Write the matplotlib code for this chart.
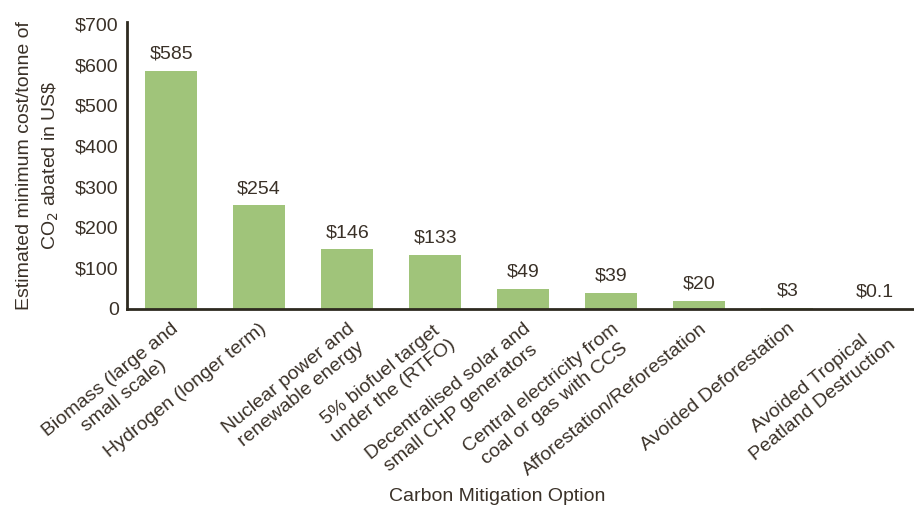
import matplotlib
matplotlib.use('Agg')
import matplotlib.pyplot as plt

plt.rcParams['font.family'] = ['Liberation Sans', 'DejaVu Sans']

categories = [
    'Biomass (large and\nsmall scale)',
    'Hydrogen (longer term)',
    'Nuclear power and\nrenewable energy',
    '5% biofuel target\nunder the (RTFO)',
    'Decentralised solar and\nsmall CHP generators',
    'Central electricity from\ncoal or gas with CCS',
    'Afforestation/Reforestation',
    'Avoided Deforestation',
    'Avoided Tropical\nPeatland Destruction',
]
costs = [585, 254, 146, 133, 49, 39, 20, 3, 0.1]
value_labels = ['$585', '$254', '$146', '$133', '$49', '$39', '$20', '$3', '$0.1']
yticks = [0, 100, 200, 300, 400, 500, 600, 700]
ytick_labels = ['0', '$100', '$200', '$300', '$400', '$500', '$600', '$700']

text_color = '#3a3128'
bar_color = '#a0c47a'

fig = plt.figure(figsize=(9.14, 5.08), dpi=100)
ax = fig.add_axes([0.139, 0.392, 0.861, 0.565])

x = list(range(len(costs)))
ax.bar(x, costs, width=0.59, color=bar_color)

for xi, v, lab in zip(x, costs, value_labels):
    ax.annotate(lab, (xi, v), xytext=(0, 6), textcoords='offset points',
                ha='center', va='bottom', fontsize=14, color=text_color)

ax.set_xlim(-0.5, 8.44)
ax.set_ylim(0, 705)
ax.set_yticks(yticks)
ax.set_yticklabels(ytick_labels, fontsize=14, color=text_color)
ax.set_xticks(x)
ax.set_xticklabels(categories, rotation=39, ha='right', va='top',
                   rotation_mode='anchor', multialignment='center',
                   linespacing=1.3, fontsize=14, color=text_color)
ax.tick_params(axis='x', length=0, pad=8)
ax.tick_params(axis='y', length=0, pad=6)

for s in ['top', 'right']:
    ax.spines[s].set_visible(False)
for s in ['left', 'bottom']:
    ax.spines[s].set_linewidth(2)
    ax.spines[s].set_color('#2e2a20')

ax.set_ylabel('Estimated minimum cost/tonne of\nCO$_2$ abated in US\\$',
              fontsize=14, color=text_color, labelpad=10, linespacing=1.5)
fig.text(0.544, 0.005, 'Carbon Mitigation Option', ha='center', va='bottom',
         fontsize=14, color=text_color)

fig.savefig('out.png', dpi=100)
